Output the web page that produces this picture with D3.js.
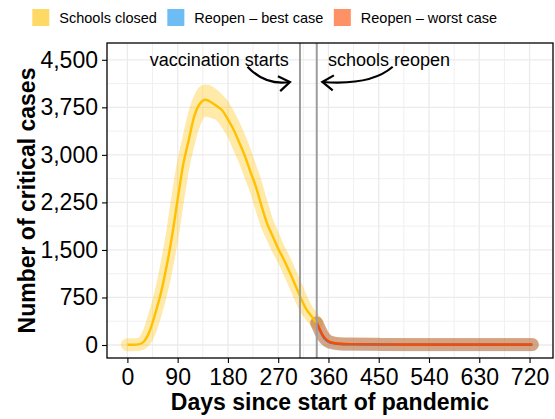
<!DOCTYPE html>
<html>
<head>
<meta charset="utf-8">
<script src="https://cdn.jsdelivr.net/npm/d3@7"></script>
<style>
  body { margin: 0; background: #fff; }
  text { font-family: "Liberation Sans", Arial, Helvetica, sans-serif; }
</style>
</head>
<body>
<svg width="555" height="419"></svg>
<script>
// chart values

const seriesNames = ['Schools closed', 'Reopen \u2013 best case', 'Reopen \u2013 worst case']
const seriesColors = ['#FFC000', '#0C8FED', '#FF4800']
const bandColors = ['#FFC000', '#0C8FED', '#E86A10']

const closedDays = [0, 10, 20, 30, 40, 50, 60, 70, 80, 90, 100, 110, 120, 130, 140, 150, 160, 170, 180, 190,
    200, 210, 220, 230, 240, 250, 260, 270, 280, 290, 300, 310, 320, 330, 339]
const closedMid = [5, 5, 10, 60, 220, 500, 820, 1230, 1720, 2300, 2850, 3240, 3620, 3810, 3870, 3830, 3770, 3700, 3560, 3400,
    3200, 2990, 2740, 2500, 2200, 1920, 1720, 1520, 1350, 1160, 960, 750, 570, 450, 345]
const closedHigh = [10, 15, 70, 240, 540, 860, 1250, 1760, 2350, 2900, 3320, 3700, 3950, 4080, 4110, 4090, 4030, 3950, 3850, 3700,
    3530, 3330, 3110, 2850, 2600, 2290, 2000, 1790, 1580, 1400, 1200, 1000, 780, 600, 470]
const closedLow = [0, 0, 0, 10, 55, 200, 480, 790, 1180, 1650, 2230, 2760, 3150, 3450, 3600, 3580, 3540, 3420, 3270, 3070,
    2870, 2630, 2400, 2110, 1840, 1650, 1460, 1300, 1110, 920, 720, 550, 430, 330, 250]

const reopenDays = [339, 345, 350, 355, 360, 370, 380, 400, 450, 500, 550, 600, 650, 700, 725]
const bestMid = [345, 225, 140, 85, 52, 26, 15, 10, 7, 6, 5, 5, 5, 5, 5]
const bestHigh = [460, 330, 225, 150, 100, 55, 35, 25, 20, 18, 17, 17, 17, 17, 17]
const bestLow = [250, 150, 85, 45, 25, 10, 5, 3, 2, 1, 1, 1, 1, 1, 1]
const worstMid = [350, 235, 150, 95, 60, 32, 20, 14, 10, 9, 8, 8, 8, 8, 8]
const worstHigh = [470, 340, 235, 160, 110, 62, 40, 28, 22, 20, 20, 20, 20, 20, 20]
const worstLow = [250, 160, 90, 50, 28, 12, 6, 3, 2, 1, 1, 1, 1, 1, 1]

const xTicks = [0, 90, 180, 270, 360, 450, 540, 630, 720]
const yTicks = [0, 750, 1500, 2250, 3000, 3750, 4500]

const vaccinationDay = 309
const reopenDay = 339
const vaccLabel = 'vaccination starts'
const reopenLabel = 'schools reopen'

const svg = d3.select('svg')
const width = +svg.attr('width')
const height = +svg.attr('height')
const panel = {left: 107, right: 553, top: 43, bottom: 358}

const x = d3.scaleLinear().domain([-36.5, 762]).range([panel.left, panel.right])
const y = d3.scaleLinear().domain([-205, 4765]).range([panel.bottom, panel.top])

// gridlines
const xMinor = xTicks.slice(1).map((t, i) => (t + xTicks[i]) / 2)
const yMinor = yTicks.slice(1).map((t, i) => (t + yTicks[i]) / 2)
const grid = svg.append('g')
grid.selectAll('.xminor').data(xMinor).enter().append('line')
    .attr('x1', d => x(d)).attr('x2', d => x(d)).attr('y1', panel.top).attr('y2', panel.bottom)
    .attr('stroke', '#F0F0F0').attr('stroke-width', 1)
grid.selectAll('.yminor').data(yMinor).enter().append('line')
    .attr('y1', d => y(d)).attr('y2', d => y(d)).attr('x1', panel.left).attr('x2', panel.right)
    .attr('stroke', '#F0F0F0').attr('stroke-width', 1)
grid.selectAll('.xmajor').data(xTicks).enter().append('line')
    .attr('x1', d => x(d)).attr('x2', d => x(d)).attr('y1', panel.top).attr('y2', panel.bottom)
    .attr('stroke', '#EBEBEB').attr('stroke-width', 1.3)
grid.selectAll('.ymajor').data(yTicks).enter().append('line')
    .attr('y1', d => y(d)).attr('y2', d => y(d)).attr('x1', panel.left).attr('x2', panel.right)
    .attr('stroke', '#EBEBEB').attr('stroke-width', 1.3)

const toRows = (days, mid, low, high) => days.map((d, i) => ({day: d, mid: mid[i], low: low[i], high: high[i]}))
const series = [
    toRows(closedDays, closedMid, closedLow, closedHigh),
    toRows(reopenDays, bestMid, bestLow, bestHigh),
    toRows(reopenDays, worstMid, worstLow, worstHigh)
]
const bandOpacity = [0.33, 0.25, 0.5]

const area = d3.area().curve(d3.curveMonotoneX)
    .x(d => x(d.day)).y0(d => y(d.low)).y1(d => y(d.high))
const line = d3.line().curve(d3.curveMonotoneX)
    .x(d => x(d.day)).y(d => y(d.mid))

// bands: area + thick rounded line, composited once through group opacity
series.forEach((rows, i) => {
    const g = svg.append('g').attr('opacity', bandOpacity[i])
    g.append('path').attr('d', area(rows)).attr('fill', bandColors[i])
    g.append('path').attr('d', line(rows)).attr('fill', 'none')
        .attr('stroke', bandColors[i]).attr('stroke-width', 13)
        .attr('stroke-linecap', 'round').attr('stroke-linejoin', 'round')
})
series.forEach((rows, i) => {
    svg.append('path').attr('d', line(rows)).attr('fill', 'none')
        .attr('stroke', seriesColors[i]).attr('stroke-width', 2.4)
})

// event lines
svg.selectAll('.vline').data([vaccinationDay, reopenDay]).enter().append('line')
    .attr('x1', d => x(d)).attr('x2', d => x(d)).attr('y1', panel.top).attr('y2', panel.bottom)
    .attr('stroke', '#9C9C9C').attr('stroke-width', 2)

// panel border
svg.append('rect').attr('x', panel.left).attr('y', panel.top)
    .attr('width', panel.right - panel.left).attr('height', panel.bottom - panel.top)
    .attr('fill', 'none').attr('stroke', '#000').attr('stroke-width', 1.3)

// axes
const xAxis = svg.append('g').attr('transform', `translate(0,${panel.bottom})`)
    .call(d3.axisBottom(x).tickValues(xTicks).tickSize(5).tickPadding(6).tickFormat(d3.format('d')))
const yAxis = svg.append('g').attr('transform', `translate(${panel.left},0)`)
    .call(d3.axisLeft(y).tickValues(yTicks).tickSize(5).tickPadding(4).tickFormat(d3.format(',')))
;[xAxis, yAxis].forEach(a => {
    a.select('.domain').remove()
    a.selectAll('line').attr('stroke', '#000').attr('stroke-width', 1.1)
    a.selectAll('text').attr('fill', '#000').style('font-size', '23px')
        .style('font-family', '"Liberation Sans", Arial, sans-serif')
})

svg.append('text').attr('x', (panel.left + panel.right) / 2).attr('y', 410)
    .attr('text-anchor', 'middle').style('font-size', '23px').style('font-weight', 'bold')
    .text('Days since start of pandemic')
svg.append('text').attr('transform', `translate(35,${(panel.top + panel.bottom) / 2}) rotate(-90)`)
    .attr('text-anchor', 'middle').style('font-size', '23px').style('font-weight', 'bold')
    .text('Number of critical cases')

// annotations
svg.append('defs').append('marker')
    .attr('id', 'head').attr('viewBox', '-12 -9 14 18')
    .attr('markerWidth', 14).attr('markerHeight', 18).attr('markerUnits', 'userSpaceOnUse')
    .attr('refX', 0).attr('refY', 0).attr('orient', 'auto')
    .append('path').attr('d', 'M-11,-7.5L0,0L-11,7.5')
    .attr('fill', 'none').attr('stroke', '#000').attr('stroke-width', 2.2)

svg.append('text').attr('x', x(vaccinationDay - 20)).attr('y', y(4500) + 6)
    .attr('text-anchor', 'end').style('font-size', '18px').text(vaccLabel)
svg.append('text').attr('x', x(reopenDay + 20)).attr('y', y(4500) + 6)
    .attr('text-anchor', 'start').style('font-size', '18px').text(reopenLabel)

const arrows = [
    {from: [215, 4390], ctrl: [247, 4090], to: [291, 4150]},
    {from: [475, 4390], ctrl: [436, 4090], to: [349, 4150]}
]
svg.selectAll('.arrow').data(arrows).enter().append('path')
    .attr('d', a => `M${x(a.from[0])},${y(a.from[1])}Q${x(a.ctrl[0])},${y(a.ctrl[1])} ${x(a.to[0])},${y(a.to[1])}`)
    .attr('fill', 'none').attr('stroke', '#000').attr('stroke-width', 2.2)
    .attr('marker-end', 'url(#head)')

// legend
const legend = svg.append('g')
let lx = 32.3
seriesNames.forEach((name, i) => {
    legend.append('rect').attr('x', lx).attr('y', 9).attr('width', 17).attr('height', 17)
        .attr('fill', seriesColors[i]).attr('fill-opacity', 0.6)
    const t = legend.append('text').attr('x', lx + 27).attr('y', 22.5)
        .style('font-size', '14.5px').text(name)
    lx += 27 + t.node().getComputedTextLength() + 10.5
})
</script>
</body>
</html>
